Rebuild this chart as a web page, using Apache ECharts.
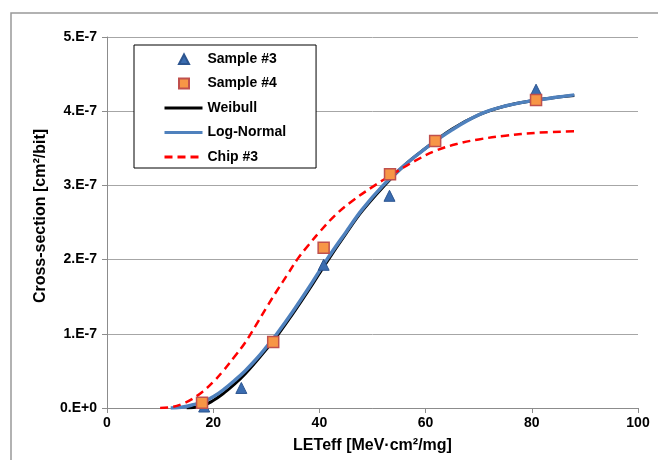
<!DOCTYPE html>
<html><head><meta charset="utf-8">
<script src="https://cdn.jsdelivr.net/npm/echarts@6/dist/echarts.min.js"></script>
<style>html,body{margin:0;padding:0;background:#fff}#c{width:658px;height:460px}</style>
</head><body><div id="c"></div>
<script>
const seriesNames = ['Sample #3', 'Sample #4', 'Weibull', 'Log-Normal', 'Chip #3'];
const xTicks = [0, 20, 40, 60, 80, 100];
const yTickLabels = ['0.E+0', '1.E-7', '2.E-7', '3.E-7', '4.E-7', '5.E-7'];
const sample3 = [[18.3, 0.02e-7], [25.3, 0.27e-7], [40.8, 1.93e-7], [53.2, 2.86e-7], [61.7, 3.6e-7], [80.8, 4.29e-7]];
const sample4 = [[17.9, 0.07e-7], [31.3, 0.89e-7], [40.8, 2.16e-7], [53.3, 3.15e-7], [61.8, 3.6e-7], [80.8, 4.15e-7]];
const weibull = [[15, 0], [18, 0.03e-7], [20, 0.1e-7], [22, 0.2e-7], [24, 0.32e-7], [26, 0.46e-7], [28, 0.62e-7], [30, 0.79e-7], [32, 0.97e-7], [35, 1.27e-7], [38, 1.59e-7], [41.4, 1.97e-7], [45, 2.35e-7], [48, 2.65e-7], [52, 2.98e-7], [56, 3.27e-7], [60, 3.5e-7], [65, 3.76e-7], [70, 3.95e-7], [75, 4.07e-7], [80, 4.14e-7], [85, 4.19e-7], [88, 4.21e-7]];
const logNormal = [[12, 0], [14, 0.01e-7], [16, 0.04e-7], [18, 0.08e-7], [20, 0.15e-7], [22, 0.25e-7], [24, 0.37e-7], [26, 0.5e-7], [28, 0.65e-7], [30, 0.82e-7], [32, 1.0e-7], [35, 1.3e-7], [38, 1.62e-7], [41.4, 2.0e-7], [45, 2.37e-7], [48, 2.67e-7], [52, 3.0e-7], [56, 3.27e-7], [60, 3.5e-7], [65, 3.75e-7], [70.3, 3.96e-7], [75, 4.07e-7], [80, 4.14e-7], [85, 4.19e-7], [88, 4.22e-7]];
const chip3 = [[10, 0], [12, 0.01e-7], [14, 0.05e-7], [16, 0.12e-7], [18, 0.22e-7], [20, 0.35e-7], [22, 0.51e-7], [24, 0.69e-7], [26, 0.88e-7], [28, 1.11e-7], [30, 1.35e-7], [32, 1.58e-7], [34, 1.8e-7], [36, 2.02e-7], [38, 2.2e-7], [40, 2.37e-7], [43, 2.6e-7], [46, 2.78e-7], [50, 2.98e-7], [54, 3.16e-7], [58, 3.33e-7], [62, 3.47e-7], [66, 3.56e-7], [70, 3.62e-7], [75, 3.67e-7], [81, 3.71e-7], [88, 3.73e-7]];

const FONT = 'Liberation Sans, Arial, sans-serif';
const hidden = {color: 'rgba(0,0,0,0)', borderColor: 'rgba(0,0,0,0)', borderWidth: 0};
const legendIcons = {
  'Sample #3': 'path://M0,0M38,10M14.5,10L19.5,0.5L24.5,10Z',
  'Sample #4': 'path://M0,0M38,10M14.5,0L24.5,0L24.5,10L14.5,10Z'
};
const legendData = seriesNames.map(n => legendIcons[n]
  ? {name: n, icon: legendIcons[n]}
  : {name: n, itemStyle: hidden, lineStyle: {width: 3}});

const chart = echarts.init(document.getElementById('c'), null, {renderer: 'canvas'});
chart.setOption({
  animation: false,
  backgroundColor: '#fff',
  graphic: [{
    type: 'rect', z: -10, silent: true,
    shape: {x: 11, y: 13, width: 700, height: 500},
    style: {fill: 'none', stroke: '#999', lineWidth: 1.5}
  }],
  grid: {left: 107, right: 20, top: 37, bottom: 52, containLabel: false},
  legend: {
    orient: 'vertical',
    left: 134, top: 45,
    padding: [7, 30, 4, 29],
    itemWidth: 38, itemHeight: 10, itemGap: 10.5,
    backgroundColor: '#fff',
    borderColor: '#000', borderWidth: 1,
    data: legendData,
    textStyle: {fontFamily: FONT, fontWeight: 'bold', fontSize: 14, color: '#000', lineHeight: 14}
  },
  xAxis: {
    type: 'value', min: xTicks[0], max: xTicks[xTicks.length - 1], interval: 20,
    name: 'LETeff [MeV·cm²/mg]', nameLocation: 'middle', nameGap: 30,
    nameTextStyle: {fontFamily: FONT, fontWeight: 'bold', fontSize: 16, color: '#000'},
    axisLine: {show: true, lineStyle: {color: '#8c8c8c', width: 1}},
    axisTick: {show: true, length: 5, lineStyle: {color: '#8c8c8c'}},
    axisLabel: {fontFamily: FONT, fontWeight: 'bold', fontSize: 14, color: '#000', margin: 8},
    splitLine: {show: false}
  },
  yAxis: {
    type: 'value', min: 0, max: 5e-7, interval: 1e-7,
    name: 'Cross-section [cm²/bit]', nameLocation: 'middle', nameGap: 58,
    nameTextStyle: {fontFamily: FONT, fontWeight: 'bold', fontSize: 16, color: '#000', padding: [0, 0, 0, 13]},
    axisLine: {show: true, lineStyle: {color: '#8c8c8c', width: 1}},
    axisTick: {show: true, length: 5, lineStyle: {color: '#8c8c8c'}},
    axisLabel: {fontFamily: FONT, fontWeight: 'bold', fontSize: 14, color: '#000', margin: 10,
      formatter: (v, i) => yTickLabels[Math.round(v / 1e-7)]},
    splitLine: {show: true, lineStyle: {color: '#a6a6a6', width: 1}}
  },
  series: [
    {name: 'Weibull', type: 'line', data: weibull, smooth: 0.4, symbol: 'none', z: 2,
      lineStyle: {color: '#000', width: 3}, itemStyle: {color: '#000'}},
    {name: 'Log-Normal', type: 'line', data: logNormal, smooth: 0.4, symbol: 'none', z: 3,
      lineStyle: {color: '#4f81bd', width: 3.5}, itemStyle: {color: '#4f81bd'}},
    {name: 'Chip #3', type: 'line', data: chip3, smooth: 0.4, symbol: 'none', z: 4,
      lineStyle: {color: '#ff0000', width: 2.5, type: [8, 5]}, itemStyle: {color: '#ff0000'}},
    {name: 'Sample #3', type: 'scatter', data: sample3, symbol: 'triangle', symbolSize: 11, z: 5,
      itemStyle: {color: '#3a6cb0', borderColor: '#2c5590', borderWidth: 1, opacity: 1}},
    {name: 'Sample #4', type: 'scatter', data: sample4, symbol: 'rect', symbolSize: 11, z: 6,
      itemStyle: {color: '#f79646', borderColor: '#c0504d', borderWidth: 1.5, opacity: 1}}
  ]
});
</script>
</body></html>
